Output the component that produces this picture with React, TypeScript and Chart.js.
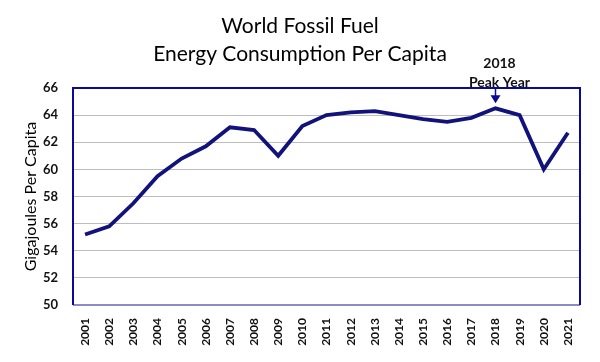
import React, { useEffect, useRef } from "react";
import { Chart, registerables } from "chart.js";

Chart.register(...registerables);

const years = ["2001","2002","2003","2004","2005","2006","2007","2008","2009","2010","2011","2012","2013","2014","2015","2016","2017","2018","2019","2020","2021"];
const gigajoulesPerCapita = [55.2, 55.8, 57.5, 59.5, 60.8, 61.7, 63.1, 62.9, 61.0, 63.2, 64.0, 64.2, 64.3, 64.0, 63.7, 63.5, 63.8, 64.5, 64.0, 60.0, 62.7];
const titleLines = ["World Fossil Fuel", "Energy Consumption Per Capita"];
const yAxisTitle = "Gigajoules Per Capita";
const peakYear = "2018";
const peakLabel = ["2018", "Peak Year"];
const yMin = 50;
const yMax = 66;
const yStep = 2;

const FONT = "Lato, 'Open Sans', sans-serif";
const NAVY = "#12127c";

const overlayPlugin = {
  id: "overlay",
  afterDraw(chart: any) {
    const ctx = chart.ctx;
    const a = chart.chartArea;
    ctx.save();
    // plot border
    ctx.lineWidth = 2;
    ctx.strokeStyle = "#8c8cc4";
    ctx.beginPath();
    ctx.moveTo(a.left, a.bottom);
    ctx.lineTo(a.right, a.bottom);
    ctx.stroke();
    ctx.strokeStyle = "#0a0a96";
    ctx.beginPath();
    ctx.moveTo(a.left, a.bottom);
    ctx.lineTo(a.left, a.top);
    ctx.lineTo(a.right, a.top);
    ctx.lineTo(a.right, a.bottom);
    ctx.stroke();

    // title
    ctx.fillStyle = "#000";
    ctx.textAlign = "center";
    ctx.textBaseline = "alphabetic";
    ctx.font = `21px ${FONT}`;
    ctx.fillText(titleLines[0], 300, 33);
    ctx.fillText(titleLines[1], 300, 61);

    // peak annotation
    const idx = years.indexOf(peakYear);
    const px = chart.scales.x.getPixelForValue(idx);
    const py = chart.scales.y.getPixelForValue(gigajoulesPerCapita[idx]);
    ctx.font = `bold 14px ${FONT}`;
    ctx.fillStyle = "#111";
    ctx.textBaseline = "alphabetic";
    ctx.fillText(peakLabel[0], px + 4, py - 40);
    ctx.fillText(peakLabel[1], px + 4, py - 21);
    ctx.strokeStyle = "#0a0a96";
    ctx.lineWidth = 1.5;
    ctx.beginPath();
    ctx.moveTo(px, a.top);
    ctx.lineTo(px, py - 12);
    ctx.stroke();
    ctx.fillStyle = "#0a0a96";
    ctx.beginPath();
    ctx.moveTo(px - 5, py - 13);
    ctx.lineTo(px + 5, py - 13);
    ctx.lineTo(px, py - 5);
    ctx.closePath();
    ctx.fill();
    ctx.restore();
  },
};

export default function App() {
  const ref = useRef<HTMLCanvasElement | null>(null);
  useEffect(() => {
    if (!ref.current) return;
    const chart = new Chart(ref.current, {
      type: "line",
      data: {
        labels: years,
        datasets: [
          {
            data: gigajoulesPerCapita,
            borderColor: NAVY,
            borderWidth: 3.8,
            pointRadius: 0,
            tension: 0,
            fill: false,
          },
        ],
      },
      options: {
        responsive: false,
        animation: false,
        devicePixelRatio: 1,
        layout: { padding: { top: 88, right: 20, bottom: 0, left: 0 } },
        plugins: {
          legend: { display: false },
          title: { display: false },
          tooltip: { enabled: false },
        },
        scales: {
          x: {
            type: "category",
            offset: true,
            grid: { display: false, drawTicks: false },
            border: { display: false },
            ticks: {
              autoSkip: false,
              minRotation: 90,
              maxRotation: 90,
              padding: 13,
              color: "#111",
              font: { family: FONT, size: 12, weight: "bold" },
            },
            afterFit: (s: any) => {
              s.height = 57;
            },
          },
          y: {
            min: yMin,
            max: yMax,
            grid: { color: "#bdbdbd", lineWidth: 1, drawTicks: false },
            border: { display: false },
            ticks: {
              stepSize: yStep,
              padding: 15,
              color: "#111",
              font: { family: FONT, size: 13, weight: "bold" },
            },
            title: {
              display: true,
              text: yAxisTitle,
              color: "#000",
              padding: { top: 21, bottom: 0 },
              font: { family: FONT, size: 16 },
            },
            afterFit: (s: any) => {
              s.width = 73;
            },
          },
        },
      },
      plugins: [overlayPlugin],
    });
    return () => chart.destroy();
  }, []);
  return (
    <div style={{ position: "fixed", left: 0, top: 0, width: 600, height: 362, background: "#fff" }}>
      <canvas ref={ref} width={600} height={362} style={{ width: 600, height: 362, display: "block" }} />
    </div>
  );
}
